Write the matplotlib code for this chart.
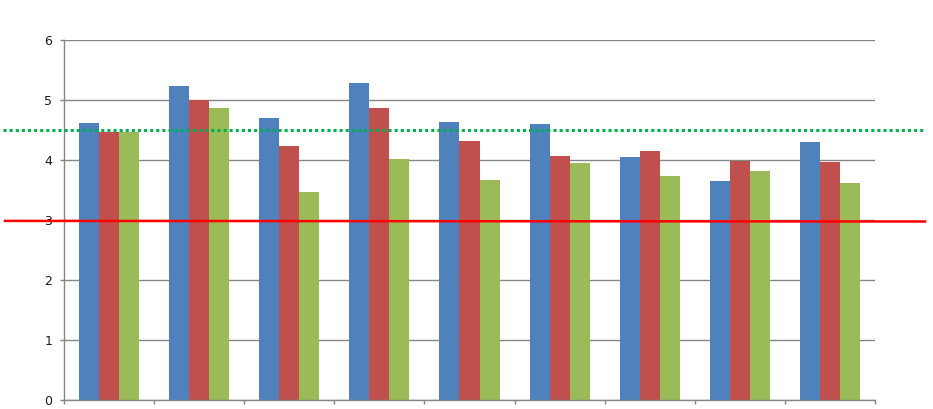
import numpy as np
import matplotlib.pyplot as plt

# values
groups = np.arange(9)
series_a = [4.62, 5.24, 4.70, 5.29, 4.64, 4.60, 4.06, 3.66, 4.31]
series_b = [4.47, 5.00, 4.24, 4.87, 4.32, 4.07, 4.16, 3.99, 3.97]
series_c = [4.47, 4.87, 3.47, 4.02, 3.67, 3.96, 3.74, 3.82, 3.62]
colors = ["#4F81BD", "#C0504D", "#9BBB59"]
target_level = 4.5
base_level = [2.99, 2.98]
y_ticks = [0, 1, 2, 3, 4, 5, 6]

W, H = 933, 409
fig = plt.figure(figsize=(W / 100, H / 100), dpi=100)
ax = fig.add_axes([64 / W, 8.7 / H, (875 - 64) / W, (400.3 - 40.3) / H])

bar_w = 20 / 90.1
for k, vals in enumerate([series_a, series_b, series_c]):
    ax.bar(groups + (k - 1) * bar_w, vals, width=bar_w, color=colors[k],
           linewidth=0, zorder=2)

ax.set_xlim(-0.5, 8.5)
ax.set_ylim(0, 6)
ax.set_yticks(y_ticks)
ax.set_xticks(np.arange(-0.5, 9, 1))
ax.set_xticklabels([])
ax.grid(axis="y", color="#868686", linewidth=1, zorder=1)
ax.set_axisbelow(True)
for s in ["top", "right"]:
    ax.spines[s].set_visible(False)
for s in ["left", "bottom"]:
    ax.spines[s].set_color("#868686")
    ax.spines[s].set_linewidth(1)
ax.tick_params(axis="y", length=3, width=1, color="#868686", pad=5.5,
               labelsize=9, labelcolor="#1a1a1a")
ax.tick_params(axis="x", length=3, width=1, color="#868686")

# reference lines spanning past the plot area
px = 90.1
x_left = -0.5 - (64 - 3) / px
x_right = 8.5 + (924 - 875) / px
ax.plot([x_left, x_right], [target_level, target_level], color="#00B050",
        linewidth=2.2, linestyle=(0, (1, 1)), dash_capstyle="butt",
        clip_on=False, zorder=3)
ax.plot([-0.5 - (64 - 5) / px, 8.5 + (925 - 875) / px], base_level,
        color="#FF0000", linewidth=1.8, clip_on=False, zorder=3)

fig.savefig("out.png", dpi=100)
